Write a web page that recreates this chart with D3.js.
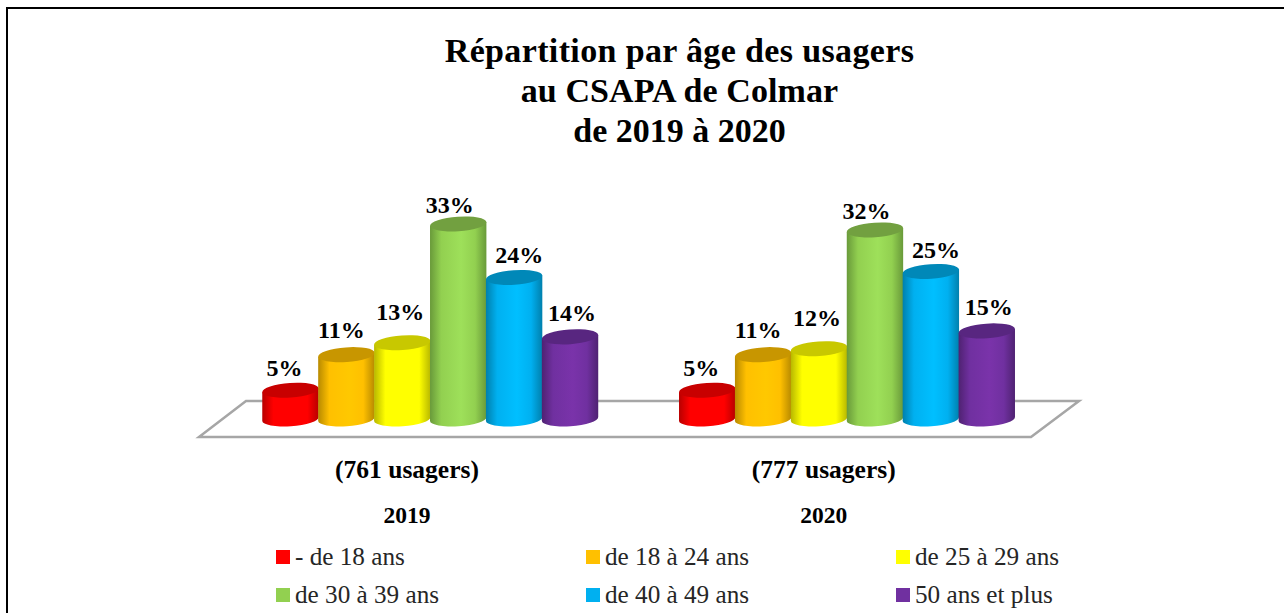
<!DOCTYPE html>
<html><head><meta charset="utf-8">
<script src="https://cdn.jsdelivr.net/npm/d3@7"></script>
<style>html,body{margin:0;padding:0;background:#fff;overflow:hidden}svg{display:block}text{font-family:"Liberation Serif",serif}</style>
</head><body><div id="c"></div>
<script>
const titleLines = ["Répartition par âge des usagers","au CSAPA de Colmar","de 2019 à 2020"];
const years = ["2019","2020"];
const counts = ["(761 usagers)","(777 usagers)"];
const ageGroups = ["- de 18 ans","de 18 à 24 ans","de 25 à 29 ans","de 30 à 39 ans","de 40 à 49 ans","50 ans et plus"];
const values2019 = [5,11,13,33,24,14];
const values2020 = [5,11,12,32,25,15];
const baseColors = ["#ff0000","#ffc000","#ffff00","#92d050","#00b0f0","#7030a0"];
const brightColors = ["#ff0000","#ffc800","#ffff00","#9ee05a","#00bfff","#7a33aa"];
const edgeColors = ["#b80000","#b88a00","#b8b800","#699a3a","#0080ad","#4f2272"];
const topColors = ["#c80000","#c89600","#c8c800","#72a040","#0088b8","#582680"];
const valuesByYear = [values2019, values2020];
const labelShiftX = [-6,-5,-2,-8.5,5,2];
const labelShiftY = [-2.5,-5,-11,1,-2,-3.5];

const W=1284,H=613;
const svg=d3.select("#c").append("svg").attr("width",W).attr("height",H);
svg.append("rect").attr("x",7).attr("y",8).attr("width",1300).attr("height",640).attr("fill","#fff").attr("stroke","#000").attr("stroke-width",2);

const defs=svg.append("defs");
ageGroups.forEach((g,i)=>{
  const lg=defs.append("linearGradient").attr("id","g"+i).attr("x1","0").attr("x2","1").attr("y1","0").attr("y2","0");
  [[0,edgeColors[i]],[.2,baseColors[i]],[.55,brightColors[i]],[.8,baseColors[i]],[1,edgeColors[i]]].forEach(s=>
    lg.append("stop").attr("offset",s[0]).attr("stop-color",s[1]));
});

const x0=d3.scaleBand().domain(years).range([262.5,1096]);
const x1=d3.scaleBand().domain(ageGroups).range([0,335.5]);
const y=d3.scaleLinear().domain([0,33]).range([420,224]);

const backY=401,frontY=437;
const floor=d3.line()([[246,backY],[1079,backY],[1031,frontY],[199,frontY]])+"Z";
svg.append("path").attr("d",floor).attr("fill","#fff").attr("stroke","#a6a6a6").attr("stroke-width",2.5);

const baseCy=419, ry=7.3, tilt=4, sin=Math.sin(tilt*Math.PI/180), cos=Math.cos(tilt*Math.PI/180);
years.forEach((yr,k)=>{
  const g=svg.append("g");
  valuesByYear[k].forEach((v,i)=>{
    const cx=x0(yr)+x1(ageGroups[i])+x1.bandwidth()/2, rx=x1.bandwidth()/2+0.3, top=y(v);
    const dx=rx*cos, dy=rx*sin;
    g.append("path").attr("fill",`url(#g${i})`)
     .attr("d",`M${cx-dx},${top+dy}L${cx-dx},${baseCy+dy}A${rx},${ry} ${-tilt} 0 0 ${cx+dx},${baseCy-dy}L${cx+dx},${top-dy}Z`);
    g.append("ellipse").attr("cx",cx).attr("cy",top).attr("rx",rx).attr("ry",ry)
     .attr("transform",`rotate(${-tilt} ${cx} ${top})`).attr("fill",topColors[i]);
    g.append("text").attr("x",cx+labelShiftX[i]).attr("y",top-12+labelShiftY[i]).attr("text-anchor","middle")
     .attr("font-size",24).attr("font-weight","bold").attr("fill","#000").text(v+"%");
  });
  const lx=x0(yr)+144.5;
  svg.append("text").attr("x",lx).attr("y",478).attr("text-anchor","middle").attr("font-size",25.5).attr("font-weight","bold").text(counts[k]);
  svg.append("text").attr("x",lx).attr("y",523).attr("text-anchor","middle").attr("font-size",23.5).attr("font-weight","bold").text(yr);
});

titleLines.forEach((t,i)=>svg.append("text").attr("x",679.5).attr("y",[62,102,142][i]).attr("text-anchor","middle")
  .attr("font-size",34).attr("letter-spacing",[0.36,0.1,0][i]).attr("font-weight","bold").attr("fill","#000").text(t));

const legX=d3.scalePoint().domain([0,1,2]).range([276,896]);
const legY=d3.scalePoint().domain([0,1]).range([557,595]);
ageGroups.forEach((g,i)=>{
  const c=i%3,r=Math.floor(i/3);
  svg.append("rect").attr("x",legX(c)).attr("y",legY(r)-7).attr("width",14).attr("height",14).attr("fill",baseColors[i]);
  svg.append("text").attr("x",legX(c)+19).attr("y",legY(r)+7.5).attr("font-size",25.2).attr("fill","#262626").text(g);
});
</script></body></html>
